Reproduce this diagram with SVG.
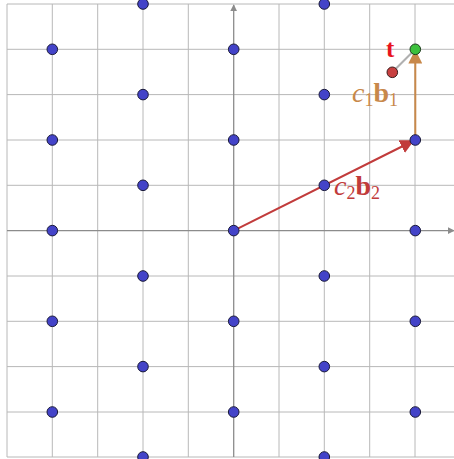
<svg xmlns="http://www.w3.org/2000/svg" width="454" height="459" viewBox="0 0 454 459">
<defs>
<style>
.grid line{stroke:#b8b8b8;stroke-width:1}
.axis{stroke:#8c8c8c;stroke-width:1.3}
.pt{fill:#4343c8;stroke:#1a1a3a;stroke-width:1}
.lbl{font-family:"Liberation Serif","DejaVu Serif",serif}
</style>
<marker id="ax" viewBox="0 0 10 10" refX="9" refY="5" markerWidth="7" markerHeight="7" orient="auto" markerUnits="userSpaceOnUse"><path d="M0,0 L10,5 L0,10 z" fill="#8c8c8c"/></marker>
<marker id="ar" viewBox="0 0 10 10" refX="9" refY="5" markerWidth="14" markerHeight="14" orient="auto" markerUnits="userSpaceOnUse"><path d="M0,0 L10,5 L0,10 z" fill="#c13b3b"/></marker>
<marker id="ao" viewBox="0 0 10 10" refX="9" refY="5" markerWidth="14" markerHeight="14" orient="auto" markerUnits="userSpaceOnUse"><path d="M0,0 L10,5 L0,10 z" fill="#c8884a"/></marker>
</defs>
<rect width="454" height="459" fill="#fff"/>
<g class="grid">
<line x1="7" y1="4" x2="7" y2="457"/><line x1="52.3" y1="4" x2="52.3" y2="457"/><line x1="97.7" y1="4" x2="97.7" y2="457"/><line x1="143" y1="4" x2="143" y2="457"/><line x1="188.3" y1="4" x2="188.3" y2="457"/><line x1="279" y1="4" x2="279" y2="457"/><line x1="324.3" y1="4" x2="324.3" y2="457"/><line x1="369.7" y1="4" x2="369.7" y2="457"/><line x1="415" y1="4" x2="415" y2="457"/>
<line x1="7" y1="4" x2="454" y2="4"/><line x1="7" y1="49.3" x2="454" y2="49.3"/><line x1="7" y1="94.6" x2="454" y2="94.6"/><line x1="7" y1="140" x2="454" y2="140"/><line x1="7" y1="185.3" x2="454" y2="185.3"/><line x1="7" y1="276" x2="454" y2="276"/><line x1="7" y1="321.3" x2="454" y2="321.3"/><line x1="7" y1="366.6" x2="454" y2="366.6"/><line x1="7" y1="412" x2="454" y2="412"/><line x1="7" y1="457" x2="454" y2="457"/>
</g>
<g id="axes">
<line class="axis" x1="7" y1="230.6" x2="454" y2="230.6" marker-end="url(#ax)"/>
<line class="axis" x1="233.7" y1="457" x2="233.7" y2="5" marker-end="url(#ax)"/>
</g>
<g id="connectors">
<line x1="392.3" y1="72.3" x2="415.3" y2="49.3" stroke="#b0b0b0" stroke-width="2"/>
<line x1="233.7" y1="230.6" x2="413" y2="141" stroke="#c13b3b" stroke-width="2" marker-end="url(#ar)"/>
<line x1="415.3" y1="140" x2="415.3" y2="51" stroke="#c8884a" stroke-width="2" marker-end="url(#ao)"/>
</g>
<g id="lattice">
<circle class="pt" cx="52.3" cy="49.3" r="5.3"/><circle class="pt" cx="52.3" cy="140" r="5.3"/><circle class="pt" cx="52.3" cy="230.6" r="5.3"/><circle class="pt" cx="52.3" cy="321.3" r="5.3"/><circle class="pt" cx="52.3" cy="412" r="5.3"/>
<circle class="pt" cx="143" cy="4" r="5.3"/><circle class="pt" cx="143" cy="94.6" r="5.3"/><circle class="pt" cx="143" cy="185.3" r="5.3"/><circle class="pt" cx="143" cy="276" r="5.3"/><circle class="pt" cx="143" cy="366.6" r="5.3"/><circle class="pt" cx="143" cy="457" r="5.3"/>
<circle class="pt" cx="233.7" cy="49.3" r="5.3"/><circle class="pt" cx="233.7" cy="140" r="5.3"/><circle class="pt" cx="233.7" cy="230.6" r="5.3"/><circle class="pt" cx="233.7" cy="321.3" r="5.3"/><circle class="pt" cx="233.7" cy="412" r="5.3"/>
<circle class="pt" cx="324.3" cy="4" r="5.3"/><circle class="pt" cx="324.3" cy="94.6" r="5.3"/><circle class="pt" cx="324.3" cy="185.3" r="5.3"/><circle class="pt" cx="324.3" cy="276" r="5.3"/><circle class="pt" cx="324.3" cy="366.6" r="5.3"/><circle class="pt" cx="324.3" cy="457" r="5.3"/>
<circle class="pt" cx="415.3" cy="140" r="5.3"/><circle class="pt" cx="415.3" cy="230.6" r="5.3"/><circle class="pt" cx="415.3" cy="321.3" r="5.3"/><circle class="pt" cx="415.3" cy="412" r="5.3"/>
</g>
<g id="t">
<circle cx="392.3" cy="72.3" r="5.3" fill="#c84040" stroke="#3a1a1a" stroke-width="1"/>
<text class="lbl" x="386" y="57" font-size="25" font-weight="bold" fill="#e8141e">t</text>
</g>
<g id="closest">
<circle cx="415.3" cy="49.3" r="5.3" fill="#3cc03c" stroke="#1a3a1a" stroke-width="1"/>
</g>
<g id="label-c1b1">
<text class="lbl" x="352" y="102" font-size="28" fill="#c8884a"><tspan font-style="italic">c</tspan><tspan font-size="18" dy="4">1</tspan><tspan font-weight="bold" dy="-4">b</tspan><tspan font-size="18" dy="4">1</tspan></text>
</g>
<g id="label-c2b2">
<text class="lbl" x="334" y="195" font-size="28" fill="#c13b3b"><tspan font-style="italic">c</tspan><tspan font-size="18" dy="4">2</tspan><tspan font-weight="bold" dy="-4">b</tspan><tspan font-size="18" dy="4">2</tspan></text>
</g>
</svg>
